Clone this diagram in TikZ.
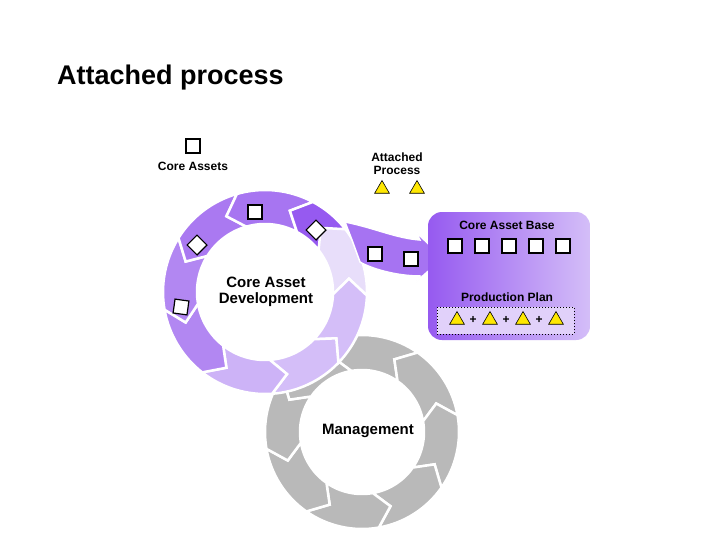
\documentclass[tikz,border=0pt]{standalone}
\usepackage{fontspec}
\setmainfont{Liberation Sans}
\usetikzlibrary{calc,shapes.geometric}
\definecolor{pD}{RGB}{150,90,240}
\definecolor{pM}{RGB}{178,135,242}
\definecolor{pL}{RGB}{212,190,248}
\definecolor{pX}{RGB}{232,222,250}
\definecolor{gS}{RGB}{185,185,185}
\begin{document}
\begin{tikzpicture}[x=1pt,y=-1pt,
  sq/.style={draw=black,line width=1.2pt,fill=white,minimum size=14pt,inner sep=0pt},
  tri/.style={draw=black,line width=0.6pt,fill=yellow!90!orange,regular polygon,regular polygon sides=3,inner sep=0pt},
  lbl/.style={font=\bfseries,align=center,inner sep=0pt},
  sm/.style={font=\bfseries\fontsize{12}{12}\selectfont}]
\useasboundingbox[fill=white] (0,0) rectangle (728,546);
\newcommand{\seg}[6]{% center, Ro, Ri, a1, a2, color
  \fill[#6,draw=white,line width=2.5pt] ($#1+(#4:#2)$) arc[start angle=#4,end angle=#5,radius=#2]
   -- ($#1+(#5-11:{(#2+#3)/2})$) -- ($#1+(#5:#3)$)
   arc[start angle=#5,end angle=#4,radius=#3] -- ($#1+(#4-11:{(#2+#3)/2})$) -- cycle;}
\node[lbl,font=\bfseries\fontsize{27}{30}\selectfont,anchor=west] (title) at (57,78) {Attached process};
% lower circle
\foreach \a in {-100,-55,-10,35,80,125,170,215}{\seg{(362,432)}{97}{62}{\a}{\a+45}{gS}}
% upper circle
\seg{(265,292)}{102}{68}{-40}{2}{pX}
\seg{(265,292)}{102}{68}{2}{44}{pL}
\seg{(265,292)}{102}{68}{44}{86}{pL}
\seg{(265,292)}{102}{68}{86}{128}{pL!80!pM}
\seg{(265,292)}{102}{68}{128}{170}{pM}
\seg{(265,292)}{102}{68}{170}{212}{pM}
\seg{(265,292)}{102}{68}{212}{254}{pM!70!pD}
\seg{(265,292)}{102}{68}{254}{298}{pM!60!pD}
\seg{(265,292)}{102}{68}{298}{322}{pD}
% branch arrow
\fill[pD!85!white,draw=white,line width=1.5pt] (345,222) .. controls (375,228) and (395,238) .. (420,240)
  -- (416,232) -- (443,258) -- (416,282) -- (420,276)
  .. controls (395,276) and (370,268) .. (360,262) -- (352,240) -- cycle;
% box
\shade[left color=pD,right color=pL,rounded corners=14pt] (428,212) rectangle (590,340);
\node[lbl,sm] (cab) at (507,225) {Core Asset Base};
\foreach \i in {0,...,4}{\node[sq] (b\i) at (455+\i*27,246) {};}
\node[lbl,sm] (pp) at (507,297) {Production Plan};
\draw[dotted,line width=1pt,fill=pL!70!white] (437,307) rectangle (574,334);
\foreach \i/\x in {0/457,1/490,2/523,3/556}{\node[tri,minimum size=17pt] (p\i) at (\x,320) {};}
\foreach \x in {473,506,539}{\node[lbl,sm] at (\x,320) {+};}
% squares
\node[sq] (s1) at (255,212) {};
\node[sq,rotate=45] (s2) at (316,230) {};
\node[sq,rotate=45] (s3) at (197,245) {};
\node[sq,rotate=-8] (s4) at (181,307) {};
\node[sq] (s5) at (375,254) {};
\node[sq] (s6) at (411,259) {};
% legend
\node[sq] (leg) at (193,146) {};
\node[lbl,sm] (ca) at (193,166) {Core Assets};
\node[lbl,font=\bfseries\fontsize{12}{13}\selectfont] (ap) at (397,164) {Attached\\Process};
\node[tri,minimum size=17pt] (t1) at (382,189) {};
\node[tri,minimum size=17pt] (t2) at (417,189) {};
\node[lbl,font=\bfseries\fontsize{15}{16}\selectfont] (cad) at (266,292) {Core Asset\\Development};
\node[lbl,font=\bfseries\fontsize{15}{15}\selectfont] (mg) at (368,431) {Management};
\end{tikzpicture}
\end{document}
